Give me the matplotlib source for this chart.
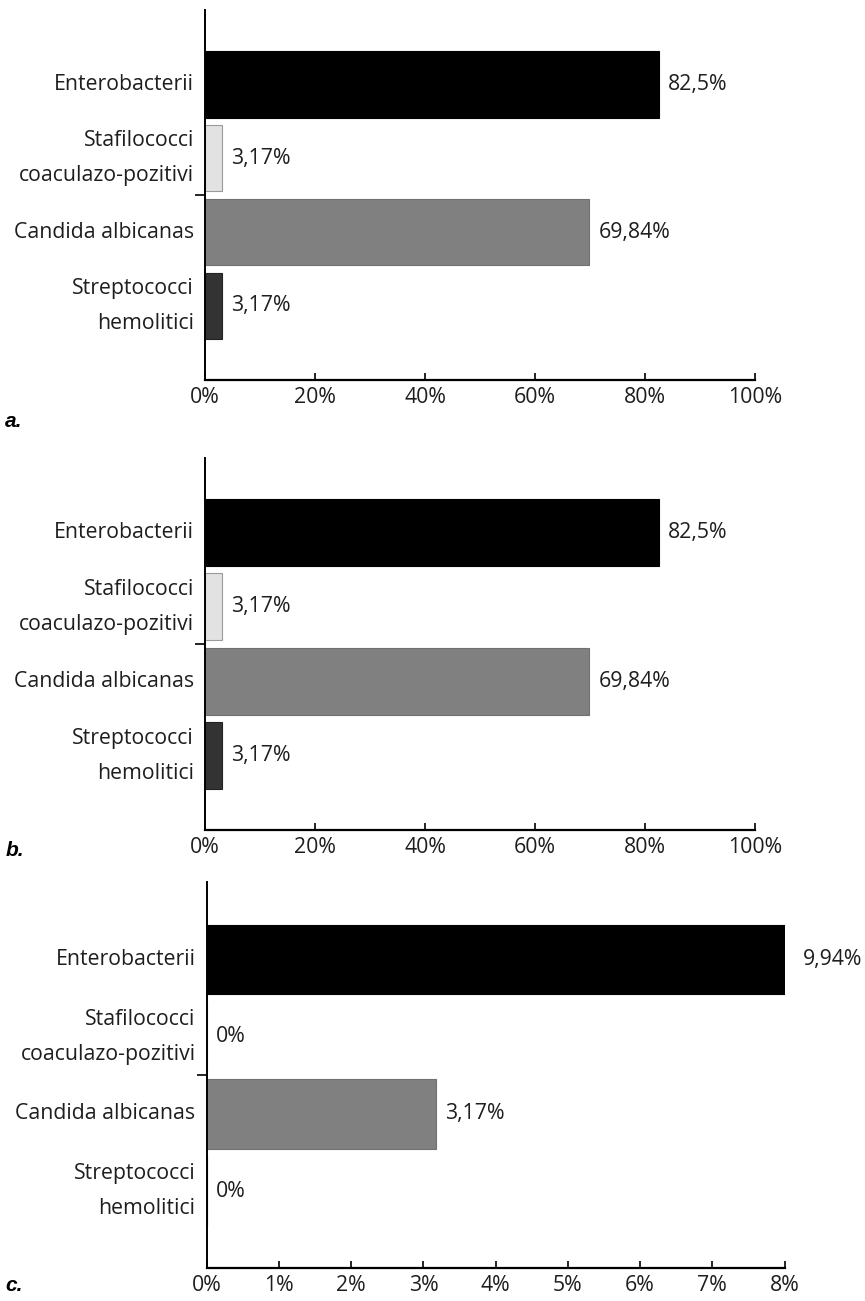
import matplotlib.pyplot as plt
from matplotlib.ticker import FixedLocator

plt.rcParams['font.family'] = ['Open Sans', 'DejaVu Sans']

categories = ['Enterobacterii', 'Stafilococci\ncoaculazo-pozitivi',
              'Candida albicanas', 'Streptococci\nhemolitici']
bar_colors = ['#000000', '#e2e2e2', '#808080', '#333333']

# three panels: values (%), value labels, x limit, tick step
panel_names = ['a.', 'b.', 'c.']
values_a = [82.5, 3.17, 69.84, 3.17]
values_b = [82.5, 3.17, 69.84, 3.17]
values_c = [9.94, 0.0, 3.17, 0.0]
labels_a = ['82,5%', '3,17%', '69,84%', '3,17%']
labels_b = ['82,5%', '3,17%', '69,84%', '3,17%']
labels_c = ['9,94%', '0%', '3,17%', '0%']
xmax = [100, 100, 8]
xstep = [20, 20, 1]

# axes boxes in figure fraction [left, bottom, width, height]
boxes = [[0.237, 0.708, 0.636, 0.284],
         [0.237, 0.362, 0.636, 0.286],
         [0.239, 0.025, 0.668, 0.297]]
tag_y = [0.672, 0.342, 0.008]

FS = 15.3
TXT = '#1e1e1e'

fig = plt.figure(figsize=(8.65, 13.01), dpi=100)

for name, vals, labs, xm, st, box, ty in zip(
        panel_names, [values_a, values_b, values_c], [labels_a, labels_b, labels_c],
        xmax, xstep, boxes, tag_y):
    ax = fig.add_axes(box)
    pos = list(range(len(categories)))
    ax.barh(pos, vals, height=0.9, color=bar_colors,
            edgecolor=['#000000', '#9a9a9a', '#707070', '#222222'], linewidth=0.8)
    ax.set_xlim(0, xm)
    ax.set_ylim(4, -1)

    for y, v, lab in zip(pos, vals, labs):
        end = min(v, xm)
        off = 13 if v > xm else 6.5
        ax.annotate(lab, xy=(end, y), xytext=(off, 0), textcoords='offset points',
                    va='center', ha='left', fontsize=FS, color=TXT,
                    annotation_clip=False)

    ax.set_yticks(pos)
    ax.set_yticklabels(categories, fontsize=FS, color=TXT, va='center',
                       multialignment='right', linespacing=1.88)
    ax.tick_params(axis='y', length=0, pad=8)
    ax.yaxis.set_minor_locator(FixedLocator([1.5]))
    ax.tick_params(axis='y', which='minor', length=7, width=1.2, direction='out')

    ticks = [i * st for i in range(int(xm / st) + 1)]
    ax.set_xticks(ticks)
    ax.set_xticklabels(['%d%%' % t for t in ticks], fontsize=FS, color=TXT)
    ax.tick_params(axis='x', direction='in', length=5, width=1.2, pad=5)

    for s in ['top', 'right']:
        ax.spines[s].set_visible(False)
    ax.spines['left'].set_linewidth(1.4)
    ax.spines['bottom'].set_linewidth(1.6)

    fig.text(0.006, ty, name, fontsize=15, fontweight='bold', fontstyle='italic',
             family='Liberation Sans')

fig.savefig('out.png', dpi=100, facecolor='white')
